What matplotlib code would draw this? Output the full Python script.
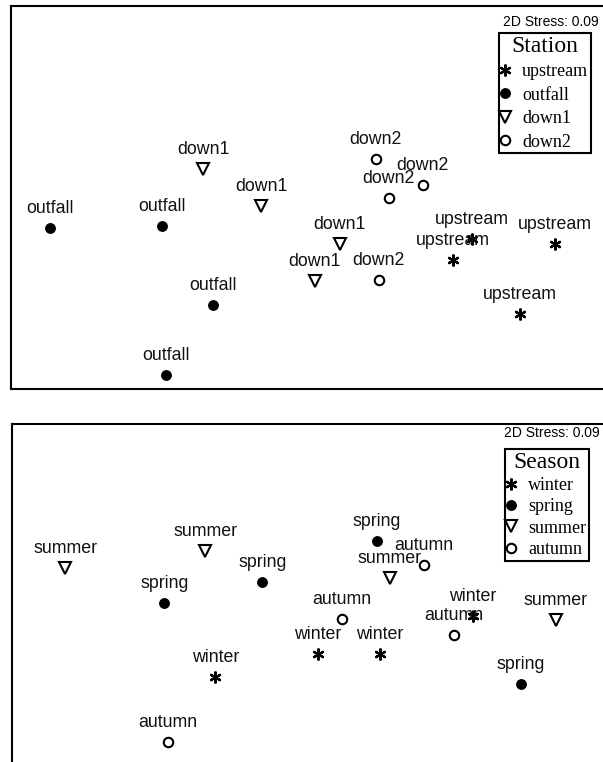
import matplotlib.pyplot as plt

plt.rcParams['font.family'] = ['Liberation Sans', 'DejaVu Sans']

# NMDS coordinates, station panel
station_names = ["upstream", "outfall", "down1", "down2"]
upstream_x = [0.855, 0.76, 1.27, 1.095]
upstream_y = [-0.195, -0.30, -0.22, -0.57]
outfall_x = [-1.25, -0.69, -0.435, -0.67]
outfall_y = [-0.14, -0.13, -0.525, -0.875]
down1_x = [-0.485, -0.195, 0.195, 0.07]
down1_y = [0.155, -0.03, -0.22, -0.405]
down2_x = [0.375, 0.61, 0.44, 0.39]
down2_y = [0.205, 0.075, 0.01, -0.40]

# NMDS coordinates, season panel
season_names = ["winter", "spring", "summer", "autumn"]
winter_x = [-0.425, 0.085, 0.395, 0.86]
winter_y = [-0.385, -0.27, -0.27, -0.08]
spring_x = [-0.19, -0.68, 0.38, 1.10]
spring_y = [0.09, -0.015, 0.295, -0.42]
summer_x = [-1.175, -0.475, 0.445, 1.275]
summer_y = [0.16, 0.245, 0.11, -0.10]
autumn_x = [-0.66, 0.615, 0.205, 0.765]
autumn_y = [-0.71, 0.175, -0.095, -0.175]

stress = 0.09

symbols = [
    dict(marker=(6, 2, 0), ms=8.5, mfc='black', mec='black', mew=1.6),
    dict(marker='o', ms=6.8, mfc='black', mec='black', mew=1),
    dict(marker='v', ms=8, mfc='white', mec='black', mew=1.5),
    dict(marker='o', ms=6.8, mfc='white', mec='black', mew=1.5),
]


def mds_panel(fig, rect, names, xs, ys, title, xlim, ylim, anchor, spacing):
    ax = fig.add_axes(rect)
    for name, x, y, sym in zip(names, xs, ys, symbols):
        ax.plot(x, y, ls='none', label=name, **sym)
        for xi, yi in zip(x, y):
            ax.annotate(name, (xi, yi), xytext=(0, 10.5), textcoords='offset points',
                        ha='center', va='baseline', fontsize=12.8, color='#111111')
    ax.set_xlim(xlim)
    ax.set_ylim(ylim)
    ax.set_xticks([])
    ax.set_yticks([])
    for s in ax.spines.values():
        s.set_linewidth(1.5)
        s.set_color('black')

    leg = ax.legend(title=title, loc='upper right', bbox_to_anchor=anchor,
                    bbox_transform=fig.transFigure, fancybox=False, framealpha=1,
                    edgecolor='black', borderpad=0.15, handlelength=0.4,
                    handletextpad=0.75, labelspacing=spacing, borderaxespad=0,
                    prop={'family': 'Liberation Serif', 'size': 13},
                    title_fontproperties={'family': 'Liberation Serif', 'size': 17})
    leg.get_frame().set_linewidth(1.5)
    return ax


fig = plt.figure(figsize=(6.03, 7.62), dpi=100)

mds_panel(fig, [11 / 603, 1 - 389 / 762, 600 / 603, 383 / 762],
          station_names, [upstream_x, outfall_x, down1_x, down2_x],
          [upstream_y, outfall_y, down1_y, down2_y],
          "Station", (-1.445, 1.55), (-0.945, 0.97), (591 / 603, 1 - 33 / 762), 0.36)
fig.text(599 / 603, 1 - 22 / 762, "2D Stress: %.2f" % stress, ha='right', va='center', fontsize=10)

mds_panel(fig, [12 / 603, 1 - 770 / 762, 599 / 603, 346 / 762],
          season_names, [winter_x, spring_x, summer_x, autumn_x],
          [winter_y, spring_y, summer_y, autumn_y],
          "Season", (-1.44, 1.55), (-0.85, 0.88), (589 / 603, 1 - 449 / 762), 0.24)
fig.text(600 / 603, 1 - 433 / 762, "2D Stress: %.2f" % stress, ha='right', va='center', fontsize=10)

fig.savefig("out.png", dpi=100)
